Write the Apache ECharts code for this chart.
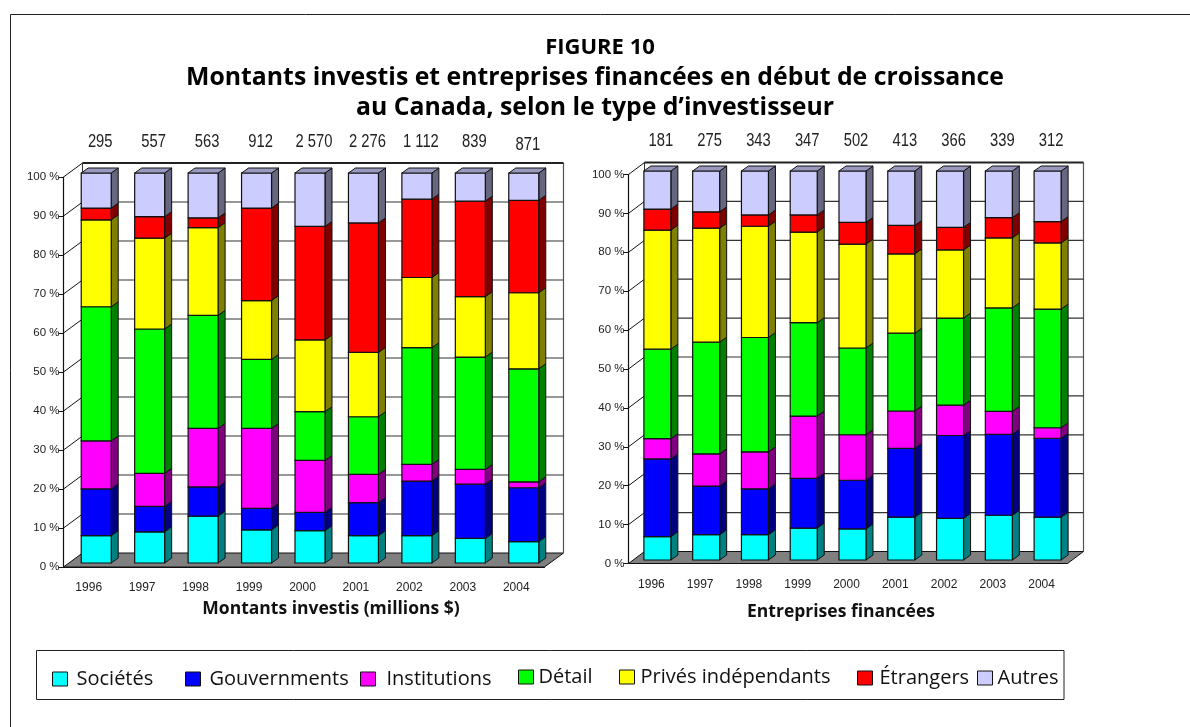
<!DOCTYPE html>
<html>
<head>
<meta charset="utf-8">
<script src="https://cdn.jsdelivr.net/npm/echarts@6/dist/echarts.min.js"></script>
<style>
html, body { margin: 0; padding: 0; background: #fff; }
#chart { width: 1190px; height: 727px; }
</style>
</head>
<body>
<div id="chart"></div>
<script>
const annees = ['1996', '1997', '1998', '1999', '2000', '2001', '2002', '2003', '2004'];
const totauxMontants = ['295', '557', '563', '912', '2 570', '2 276', '1 112', '839', '871'];
const totauxEntreprises = ['181', '275', '343', '347', '502', '413', '366', '339', '312'];
const noms = ['Sociétés', 'Gouvernments', 'Institutions', 'Détail', 'Privés indépendants', 'Étrangers', 'Autres'];

// montants investis, % par année
const societesM = [7, 8, 12, 8.5, 8.3, 7, 7, 6.3, 5.5];
const gouvM = [12, 6.5, 7.5, 5.5, 4.7, 8.5, 14, 13.9, 13.8];
const institM = [12.3, 8.5, 15, 20.5, 13.3, 7.2, 4.3, 3.8, 1.5];
const detailM = [34.4, 37, 29, 17.7, 12.5, 14.8, 29.9, 28.8, 29];
const privesM = [22.3, 23.3, 22.5, 15.1, 18.4, 16.5, 18, 15.5, 19.5];
const etrangersM = [3, 5.5, 2.5, 23.7, 29.1, 33.2, 20.1, 24.5, 23.7];
const autresM = [9, 11.2, 11.5, 9, 13.7, 12.8, 6.7, 7.2, 7];

// entreprises financées, % par année
const societesE = [6, 6.5, 6.5, 8.2, 8, 11, 10.7, 11.5, 11];
const gouvE = [20, 12.5, 11.8, 12.8, 12.5, 17.7, 21.3, 20.8, 20.3];
const institE = [5.2, 8.3, 9.5, 16, 11.7, 9.6, 7.8, 5.9, 2.7];
const detailE = [23, 28.7, 29.4, 24, 22.3, 20, 22.4, 26.6, 30.5];
const privesE = [30.6, 29.3, 28.6, 23.3, 26.7, 20.4, 17.5, 18, 17];
const etrangersE = [5.4, 4.2, 2.9, 4.4, 5.6, 7.3, 5.8, 5.2, 5.5];
const autresE = [9.8, 10.5, 11.3, 11.3, 13.2, 14, 14.5, 12, 13];

const montants = [societesM, gouvM, institM, detailM, privesM, etrangersM, autresM];
const entreprises = [societesE, gouvE, institE, detailE, privesE, etrangersE, autresE];

const couleurs = ['#00ffff', '#0000ff', '#ff00ff', '#00ff00', '#ffff00', '#ff0000', '#ccccff'];
const cotes = ['#008080', '#000080', '#800080', '#008000', '#808000', '#800000', '#666680'];
const dessusAutres = '#9999bf';
const ticks = [0, 10, 20, 30, 40, 50, 60, 70, 80, 90, 100];

const police = 'Liberation Sans';
const policeTitre = 'Open Sans';

// position de chaque graphique (grille avant + profondeur 3D)
const vues = [
    {
        grid: { left: 63.5, top: 177, width: 481, height: 390 }, prof: [19, -14],
        bar: { dx: 6, dy: -4, w: 30, px: 7, py: -5 },
        labelY: 142, labelDx: 4, axe: 'Montants investis (millions $)', nomPad: [0, 0, 0, 54], nomGap: 33, tickPad: [0, 0, 4, 0],
        totaux: totauxMontants, data: montants
    },
    {
        grid: { left: 628.5, top: 174.5, width: 439, height: 389 }, prof: [16, -12],
        bar: { dx: 4.5, dy: -3.5, w: 27, px: 7, py: -5 },
        labelY: 141, labelDx: 3.5, axe: 'Entreprises financées', nomPad: [0, 14, 0, 0], nomGap: 40, tickPad: [0, 0, 2, 0],
        totaux: totauxEntreprises, data: entreprises
    }
];

function poly(points, fill, stroke, lineWidth) {
    return { type: 'polygon', shape: { points }, style: { fill, stroke: stroke || '#111', lineWidth: lineWidth || 1 } };
}
function ligne(a, b, color, lineWidth) {
    return { type: 'line', shape: { x1: a[0], y1: a[1], x2: b[0], y2: b[1] }, style: { stroke: color || '#222', lineWidth: lineWidth || 1 } };
}

// les murs, le plancher et les lignes de grille 3D
function dessineCadre(vue) {
    return function (params, api) {
        const v = api.value(0);
        const y = api.coord([0, v])[1];
        const g = params.coordSys;
        const x0 = g.x, x1 = g.x + g.width;
        const dx = vue.prof[0], dy = vue.prof[1];
        const items = [];
        if (v === 0) {
            items.push(poly([[x0, y], [x1, y], [x1 + dx, y + dy], [x0 + dx, y + dy]], '#808080', '#111', 1));
            items.push(ligne([x0 + dx, y + dy], [x0 + dx, g.y + dy], '#333', 1));
            items.push(ligne([x1 + dx, y + dy], [x1 + dx, g.y + dy], '#555', 1.2));
        } else {
            items.push(ligne([x0, y], [x0 + dx, y + dy], '#111', 1));
            items.push(ligne([x0 + dx, y + dy], [x1 + dx, y + dy], v === 100 ? '#222' : '#333', v === 100 ? 2 : 1.2));
        }
        return { type: 'group', children: items };
    };
}

// une tranche de barre : face avant, côté, et dessus pour la dernière
function dessineTranche(vue, s) {
    return function (params, api) {
        const cat = api.value(0);
        const c0 = api.coord([cat, api.value(1)]);
        const c1 = api.coord([cat, api.value(2)]);
        const b = vue.bar;
        const xg = c0[0] + b.dx - b.w / 2, xd = xg + b.w;
        const yb = c0[1] + b.dy, yh = c1[1] + b.dy;
        const items = [
            poly([[xd, yb], [xd + b.px, yb + b.py], [xd + b.px, yh + b.py], [xd, yh]], cotes[s], '#111', 1),
            poly([[xg, yb], [xd, yb], [xd, yh], [xg, yh]], couleurs[s], '#111', 1.2)
        ];
        if (s === couleurs.length - 1) {
            items.push(poly([[xg, yh], [xd, yh], [xd + b.px, yh + b.py], [xg + b.px, yh + b.py]], dessusAutres, '#111', 1));
        }
        return { type: 'group', children: items };
    };
}

function dessineTotal(vue) {
    return function (params, api) {
        const i = api.value(0);
        const c = api.coord([i, 100]);
        // le dernier total de gauche est un peu plus bas dans l'original
        const decale = vue === vues[0] && i === 8 ? 3 : 0;
        return {
            type: 'text',
            x: c[0] + vue.bar.dx + vue.labelDx,
            y: vue.labelY + decale,
            scaleX: 0.82,
            style: {
                text: vue.totaux[i], x: 0, y: 0,
                textAlign: 'center', textVerticalAlign: 'middle',
                font: '18px "' + police + '"', fill: '#222'
            }
        };
    };
}

const series = [];
vues.forEach(function (vue, idx) {
    series.push({
        type: 'custom', name: 'cadre' + idx, xAxisIndex: idx, yAxisIndex: idx, silent: true, z: 1, clip: false,
        renderItem: dessineCadre(vue),
        encode: { y: 0 },
        data: ticks.map(function (t) { return [t]; })
    });
    vue.data.forEach(function (valeurs, s) {
        const cumul = annees.map(function (a, i) {
            let bas = 0;
            for (let k = 0; k < s; k++) bas += vue.data[k][i];
            return [i, bas, bas + valeurs[i]];
        });
        series.push({
            type: 'custom', name: noms[s], xAxisIndex: idx, yAxisIndex: idx, z: 2, clip: false,
            itemStyle: { color: couleurs[s] },
            renderItem: dessineTranche(vue, s),
            encode: { x: 0, y: [1, 2] },
            data: cumul
        });
    });
    series.push({
        type: 'custom', name: 'totaux' + idx, xAxisIndex: idx, yAxisIndex: idx, silent: true, z: 3, clip: false,
        renderItem: dessineTotal(vue),
        encode: { x: 0 },
        data: annees.map(function (a, i) { return [i]; })
    });
});

// position de chaque case de légende, l'écart texte / case varie dans l'original
const legendeX = [52, 185, 360, 518, 619, 857, 977];
const legendeY = [669, 669, 669, 667, 667, 668, 668];
const legendeEcart = [4, 4, 6, 0, 1, 2, 0];

const chart = echarts.init(document.getElementById('chart'), null, { renderer: 'canvas' });
chart.setOption({
    animation: false,
    backgroundColor: '#ffffff',
    title: [
        { text: 'FIGURE 10', left: 595, top: 32, textAlign: 'center', textStyle: { fontFamily: policeTitre, fontSize: 22, fontWeight: 'bold', color: '#000' } },
        { text: 'Montants investis et entreprises financées en début de croissance', left: 590, top: 60, textAlign: 'center', textStyle: { fontFamily: policeTitre, fontSize: 24.8, fontWeight: 'bold', color: '#000' } },
        { text: 'au Canada, selon le type d\u2019investisseur', left: 590, top: 90, textAlign: 'center', textStyle: { fontFamily: policeTitre, fontSize: 24.8, fontWeight: 'bold', color: '#000' } }
    ],
    legend: noms.map(function (n, i) {
        return {
            data: [n], left: legendeX[i], top: legendeY[i], padding: 0,
            itemWidth: 15, itemHeight: 14, icon: 'rect',
            itemStyle: { borderColor: '#111', borderWidth: 1 },
            textStyle: { fontFamily: policeTitre, fontSize: 20, color: '#111', padding: [0, 0, 0, legendeEcart[i]] }
        };
    }),
    grid: vues.map(function (v) { return v.grid; }),
    xAxis: vues.map(function (v, i) {
        return {
            type: 'category', gridIndex: i, data: annees,
            name: v.axe, nameLocation: 'middle', nameGap: v.nomGap,
            nameTextStyle: { fontFamily: policeTitre, fontSize: 17.5, fontWeight: 'bold', color: '#111', padding: v.nomPad },
            axisLine: { lineStyle: { color: '#111', width: 1.2 } },
            axisTick: { length: 6, lineStyle: { color: '#111' } },
            axisLabel: { fontFamily: police, fontSize: 12, color: '#222', margin: 15, padding: [0, 3, 0, 0] }
        };
    }),
    yAxis: vues.map(function (v, i) {
        return {
            type: 'value', gridIndex: i, min: 0, max: 100, interval: 10,
            axisLine: { show: true, lineStyle: { color: '#111', width: 1.2 } },
            axisTick: { show: true, length: 5, lineStyle: { color: '#111' } },
            axisLabel: { formatter: '{value} %', fontFamily: police, fontSize: 11.5, color: '#222', margin: 4, padding: v.tickPad },
            splitLine: { show: false }
        };
    }),
    graphic: [
        { type: 'polyline', silent: true, shape: { points: [[10.5, 727], [10.5, 14.5], [1190, 14.5]] }, style: { fill: 'none', stroke: '#222', lineWidth: 1 } },
        { type: 'rect', silent: true, shape: { x: 36.5, y: 650.5, width: 1027.5, height: 49 }, style: { fill: 'none', stroke: '#222', lineWidth: 1 } }
    ],
    series: series
});
</script>
</body>
</html>
